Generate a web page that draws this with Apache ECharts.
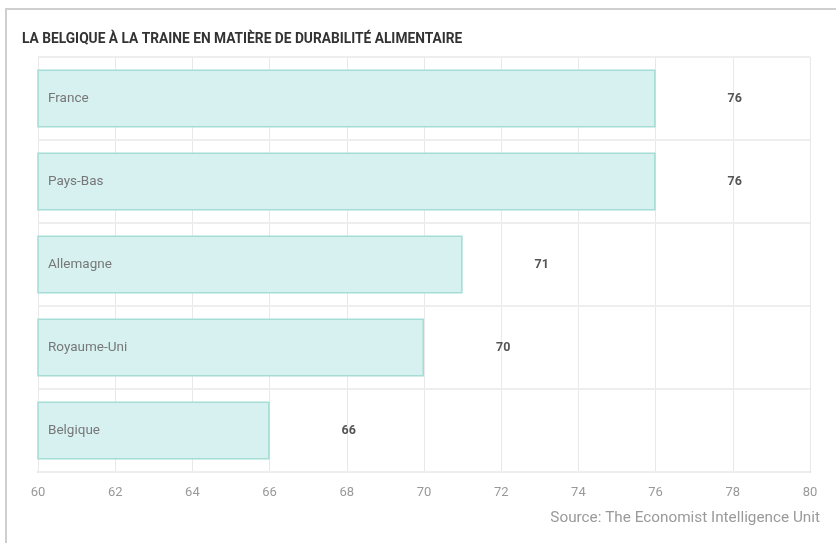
<!DOCTYPE html>
<html>
<head>
<meta charset="utf-8">
<style>
  html, body { margin: 0; padding: 0; background: #fff; }
  #frame { position: absolute; left: 5px; top: 8px; width: 831px; height: 535px;
           border-top: 2px solid #cfcfcf; border-left: 2px solid #cfcfcf; box-sizing: border-box; }
  #chart { position: absolute; left: 0; top: 0; width: 836px; height: 543px; }
</style>
<script src="https://cdn.jsdelivr.net/npm/echarts@6/dist/echarts.min.js"></script>
</head>
<body>
<div id="frame"></div>
<div id="chart"></div>
<script>
// Food sustainability scores by country
const countries = ['France', 'Pays-Bas', 'Allemagne', 'Royaume-Uni', 'Belgique'];
const scores = [76, 76, 71, 70, 66];
const xTicks = [60, 62, 64, 66, 68, 70, 72, 74, 76, 78, 80];

const chart = echarts.init(document.getElementById('chart'), null, { renderer: 'canvas' });

chart.setOption({
  animation: false,
  backgroundColor: 'transparent',
  title: [{
    text: 'LA BELGIQUE À LA TRAINE EN MATIÈRE DE DURABILITÉ ALIMENTAIRE',
    left: 22, top: 33, padding: 0,
    textStyle: { fontFamily: 'Roboto', fontWeight: 'bold', fontSize: 13.75, color: '#333' }
  }, {
    text: 'Source: The Economist Intelligence Unit',
    right: 16, top: 511, padding: 0,
    textStyle: { fontFamily: 'Roboto', fontWeight: 'normal', fontSize: 15.3, color: '#9a9a9a' }
  }],
  grid: { left: 38, right: 26, top: 57, bottom: 71, containLabel: false },
  xAxis: {
    type: 'value',
    min: xTicks[0], max: xTicks[xTicks.length - 1], interval: 2,
    axisLine: { show: true, lineStyle: { color: '#d8d8d8', width: 2 } },
    axisTick: { show: false },
    axisLabel: { color: '#999', fontFamily: 'Roboto', fontSize: 13, margin: 14 },
    splitLine: { show: true, lineStyle: { color: '#e8e8e8', width: 1 } }
  },
  yAxis: {
    type: 'category',
    data: countries,
    inverse: true,
    z: 10,
    axisLine: { show: false },
    axisTick: { show: false },
    axisLabel: { inside: true, margin: 10, color: '#777', fontFamily: 'Roboto', fontSize: 13.5 },
    splitLine: { show: true, lineStyle: { color: '#eeeeee', width: 2 } }
  },
  series: [{
    type: 'bar',
    data: scores,
    barCategoryGap: '30%',
    itemStyle: { color: '#d7f1f1', borderColor: '#a3ddd5', borderWidth: 1.5 },
    label: {
      show: true, position: 'right', distance: 72,
      color: '#555', fontFamily: 'Roboto', fontWeight: 'bold', fontSize: 12.5,
      formatter: p => String(p.value)
    }
  }]
});
</script>
</body>
</html>
